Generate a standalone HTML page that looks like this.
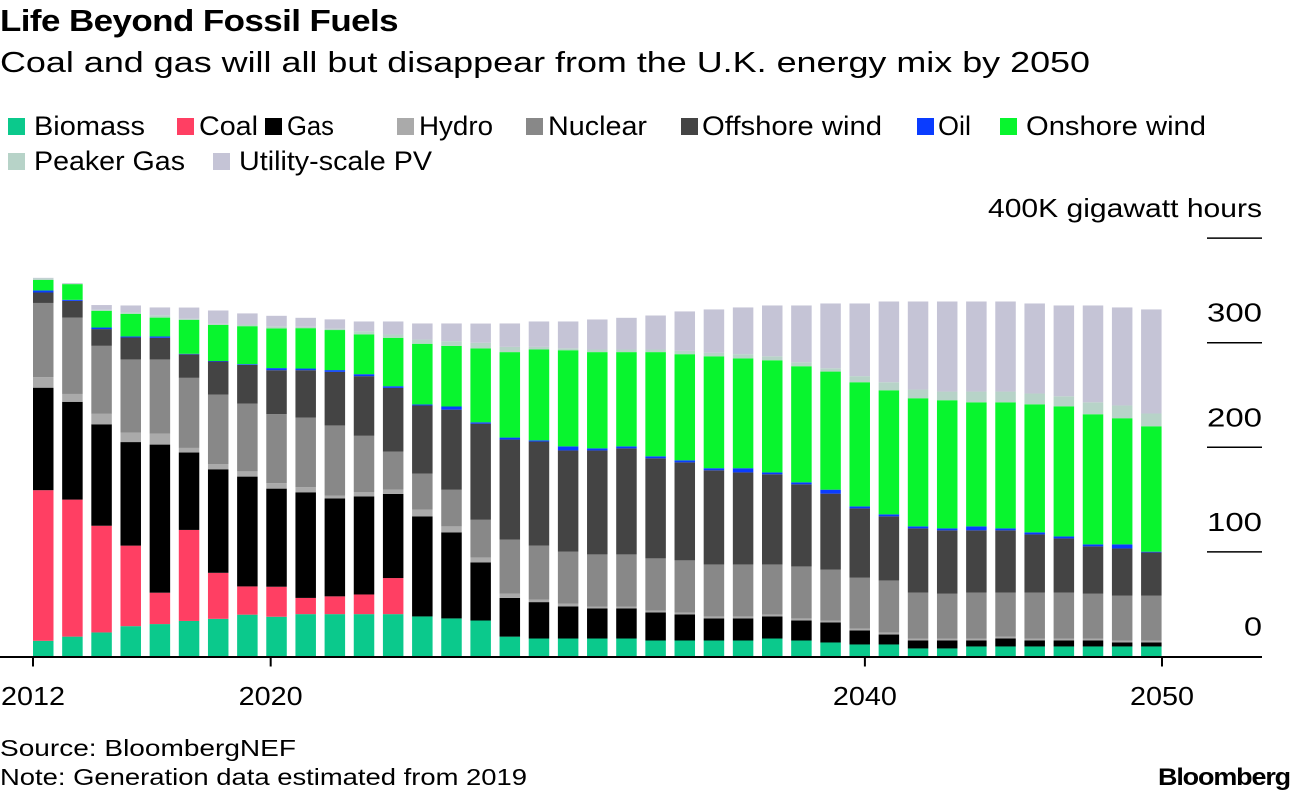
<!DOCTYPE html>
<html><head><meta charset="utf-8">
<style>
body{margin:0;width:1296px;height:794px;background:#fff;font-family:"Liberation Sans",sans-serif;overflow:hidden;position:relative}
.t{position:absolute;white-space:nowrap;color:#000;transform-origin:0 0}
.sq{position:absolute;width:17px;height:17px}
</style></head><body>
<div class="t fit" data-w="398" style="left:0;top:3px;font-size:31px;font-weight:bold;letter-spacing:-0.5px">Life Beyond Fossil Fuels</div>
<div class="t fit" data-w="1090" style="left:0;top:47px;font-size:29px">Coal and gas will all but disappear from the U.K. energy mix by 2050</div>
<div id="legend"></div>
<svg id="chart" width="1296" height="794" style="position:absolute;left:0;top:0"></svg>
<div class="t fit" data-w="296" style="left:0;top:735px;font-size:23px">Source: BloombergNEF</div>
<div class="t fit" data-w="527" style="left:0;top:764px;font-size:23px">Note: Generation data estimated from 2019</div>
<div class="t fit" data-w="132" style="left:1158px;top:764px;font-size:24px;font-weight:bold;letter-spacing:-1px">Bloomberg</div>
<script>
const years=[];for(let y=2012;y<=2050;y++)years.push(y);
const seriesNames=["Biomass","Coal","Gas","Hydro","Nuclear","Offshore wind","Oil","Onshore wind","Peaker Gas","Utility-scale PV"];
const biomass=[15,19,23,29,31,34,36,40,38,40.5,40.5,40.5,40.5,38.3,36.4,34.4,19,17.2,17.2,17.2,17.2,15.3,15.3,15.3,15.3,17.2,15.3,13.4,11.5,11.5,7.7,7.7,9.6,9.6,9.6,9.6,9.6,9.6,9.6];
const coal=[144,131,102,77,30,87,44,27,28.7,15.5,17,18.8,34.5,0,0,0,0,0,0,0,0,0,0,0,0,0,0,0,0,0,0,0,0,0,0,0,0,0,0];
const gas=[98,93.5,97,99,141.6,74,99,105,93.8,101,93.6,93.7,80.4,95.7,82.3,55.6,37,34.8,30.6,28.7,28.7,26.8,24.9,21.1,21.1,21.1,19.1,19.1,13.4,9.5,7.6,7.6,5.7,7.6,5.7,5.7,5.7,3.8,3.8];
const hydro=[10,7.5,10,9,10.4,4.4,5,5,5.2,5,2.8,4,4.1,6.4,5.7,4.7,4,2.3,2.6,1.9,1.9,1.9,1.9,1.9,1.9,1.9,2,1.9,1.9,2,1.9,1.9,1.9,1.9,1.9,1.9,1.9,1.9,1.9];
const nuclear=[71,73,65,70,71,67,66.4,64.8,66,66.4,67,54,36.4,34.4,35,36,51.7,51.7,49.8,49.8,49.8,49.8,49.8,49.7,49.7,47.8,49.7,48.6,48.5,49.7,44,42.8,44,42.1,44,44,42.8,42.8,42.8];
const offshore=[10,16,16,21,20.7,22.5,31.6,37,42,45.3,51.2,57,60.9,65.2,76.6,91.9,95.7,99.5,96.8,99.4,101.4,95.7,93.7,90,88,86.2,78.5,72.7,66.3,61.3,61.3,60.6,59.4,59.4,55.5,51.7,45.3,45.2,41.4];
const oil=[2,1,1.5,1,1.3,0.5,0.5,0.7,2,1.6,1.7,1.9,1.6,1,3,1.3,1.9,1.2,3.9,2,1.9,1.9,2,2,4,1.8,1.9,3.8,1.9,1.9,1.9,1.9,3.8,1.9,2,1.9,1.9,3.9,0.7];
const onshore=[10,15,16,21.6,18,32.5,34.5,36.3,38,38.6,38.3,38.1,46.3,58,58,70.7,81.7,86.8,91.9,92,90.1,99.6,101.4,107,105,107.2,111,112.9,118.7,118.6,122.5,122.5,118.6,120.5,122.4,124.4,124.4,120.6,119.9];
const peaker=[1.5,0.5,1,1.4,2.3,1,1,1.6,2,1.3,1.3,3,3.1,4,4.4,5.3,5,2.5,1.9,2.5,2.5,2.5,3.2,3.3,4,3.8,3.8,3.2,5.8,7.7,8.3,8.3,10.3,10.3,10.3,9.6,11.4,12.2,12.2];
const pv=[0.5,0.5,4.5,6.6,7.4,10.7,12.8,10.6,10,8.6,8.9,9.3,12.5,15.4,17,18.4,22.4,24.3,25.6,28.7,30.3,32.5,37.7,41.5,44.7,48.6,54.3,61.9,69.5,77.2,84.2,86.1,86.1,86.1,86.1,86.8,92.6,93.7,99.5];
const yTicks=[0,100,200,300,400];
const xTickYears=[2012,2020,2040,2050];
const series=[biomass,coal,gas,hydro,nuclear,offshore,oil,onshore,peaker,pv];
const colors=["#0bc98c","#ff3f63","#000000","#aaaaaa","#888888","#444444","#0a3cff","#08f52e","#b7d3c8","#c5c4d6"];
const keys=["biomass","coal","gas","hydro","nuclear","offshore-wind","oil","onshore-wind","peaker-gas","utility-pv"];
const NS="http://www.w3.org/2000/svg";
const svg=document.getElementById('chart');
const base=656.5, pxPer=1.046;
const yS=v=>base-v*pxPer;
const bandX=i=>33+i*29.16;
const tickX=y=>33+(y-2012)*(1129/38);
function el(tag,attrs){const e=document.createElementNS(NS,tag);for(const k in attrs)e.setAttribute(k,attrs[k]);svg.appendChild(e);return e;}
years.forEach((yr,i)=>{let cum=0;
  series.forEach((s,j)=>{const v=s[i];if(v<=0)return;
    const r=el('rect',{x:bandX(i),y:yS(cum+v),width:20.5,height:v*pxPer,fill:colors[j]});
    
    
    cum+=v;});
});
yTicks.forEach(t=>{
  if(t>0){const l=el('line',{x1:1207,x2:1262,y1:yS(t),y2:yS(t),stroke:'#000','stroke-width':1.5});
    
    }
  const attrs={x:1262,y:yS(t)-21,'text-anchor':'end','font-size':26,'font-family':'Liberation Sans, sans-serif'};
  if(t===400){attrs.textLength=274;attrs.lengthAdjust='spacingAndGlyphs';}
  else{attrs.textLength=(String(t).length===1?18:55);attrs.lengthAdjust='spacingAndGlyphs';}
  const tx=el('text',attrs);
  tx.textContent=t===400?'400K gigawatt hours':String(t);
  
  
});
const ax=el('line',{x1:0,x2:1262,y1:base+0.5,y2:base+0.5,stroke:'#000','stroke-width':2});


xTickYears.forEach(y=>{
  const l=el('line',{x1:tickX(y),x2:tickX(y),y1:base,y2:base+10,stroke:'#000','stroke-width':2});
  
  
  const t=el('text',{x:tickX(y),y:705,'text-anchor':'middle','font-size':26,'font-family':'Liberation Sans, sans-serif',textLength:64,lengthAdjust:'spacingAndGlyphs'});
  t.textContent=String(y);
  
  
});
const legend=document.getElementById('legend');
// [square x, text start, text end, top]
const legPos=[[8,34,145,112],[177,199,258,112],[265,287,334,112],[397,419,493,112],[526,548,647,112],[681,702,882,112],[917,938,971,112],[1000,1026,1206,112],[8,34,185,147],[213,239,432,147]];
seriesNames.forEach((n,j)=>{
  const p=legPos[j];
  const sq=document.createElement('div');
  sq.className='sq';
  sq.style.cssText=`left:${p[0]}px;top:${p[3]+6}px;background:${colors[j]}`;
  
  
  legend.appendChild(sq);
  const d=document.createElement('div');
  d.className='t fit';
  d.dataset.w=p[2]-p[1];
  d.style.cssText=`left:${p[1]}px;top:${p[3]}px;font-size:27px;line-height:28px`;
  d.textContent=n;
  
  
  legend.appendChild(d);
});
document.querySelectorAll('.fit').forEach(e=>{
  const w=e.getBoundingClientRect().width;
  const target=parseFloat(e.dataset.w);
  if(w>0)e.style.transform=`scaleX(${target/w})`;
});
</script>
</body></html>
